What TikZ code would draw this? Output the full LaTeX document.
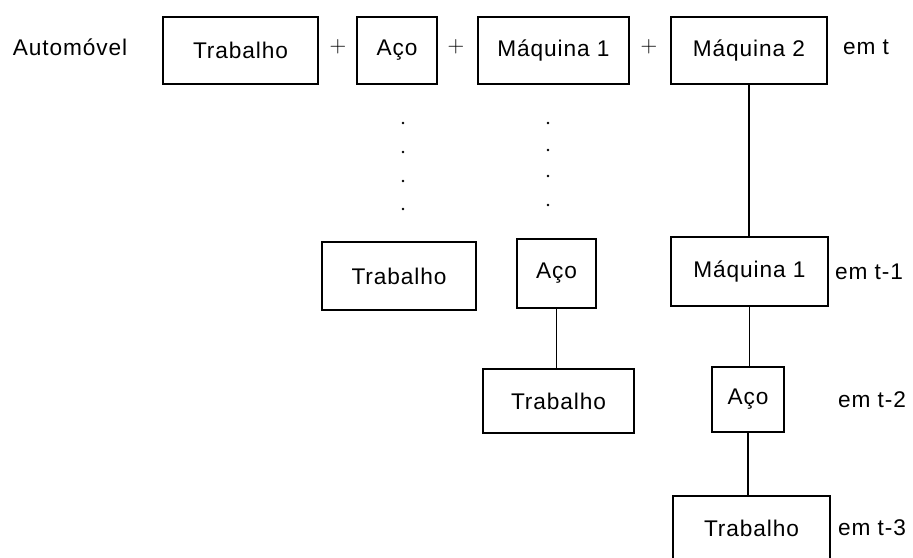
\documentclass[tikz,border=0pt]{standalone}
\usepackage{fontspec}
\setmainfont{Liberation Sans}[LetterSpace=4]
\begin{document}
\begin{tikzpicture}[x=0.75pt,y=-0.75pt,
  txt/.style={font=\fontsize{17}{20}\selectfont},
  box/.style={draw,line width=1.35pt,inner sep=0pt,txt},
  lbl/.style={inner sep=0pt,txt},
  plus/.style={inner sep=0pt,font=\fontsize{18}{20}\selectfont},
  sz/.style 2 args={minimum width=#1*0.75pt,minimum height=#2*0.75pt},
  link/.style={line width=1.35pt}]
\clip (0,0) rectangle (913,557);
\fill[white] (0,0) rectangle (913,557);
% top row
\node[lbl] (auto) at (70,47) {Automóvel};
\node[box,sz={155}{67}] (t1) at (240.5,50.5) {Trabalho};
\node[plus] (p1) at (338,47) {$+$};
\node[box,sz={80}{67}] (a1) at (397,50.5) {Aço};
\node[plus] (p2) at (456,47) {$+$};
\node[box,sz={151}{67}] (m1) at (553.5,50.5) {Máquina 1};
\node[plus] (p3) at (649,47) {$+$};
\node[box,sz={156}{67}] (m2) at (749,50.5) {Máquina 2};
\node[lbl] (et) at (866,47) {em t};
% dots
\foreach \y in {123,152,181,209} \fill (403,\y) circle (1.1pt);
\foreach \y in {123,150,176,205} \fill (548,\y) circle (1.1pt);
% row 2
\node[box,sz={154}{68}] (t2) at (399,276) {Trabalho};
\node[box,sz={79}{69}] (a2) at (556.5,273.5) {Aço};
\node[box,sz={157}{69}] (m1b) at (749.5,271.5) {Máquina 1};
\node[lbl] (et1) at (869,272) {em t-1};
% row 3
\node[box,sz={151}{64}] (t3) at (558.5,401) {Trabalho};
\node[box,sz={72}{65}] (a3) at (748,399.5) {Aço};
\node[lbl] (et2) at (872,400) {em t-2};
% row 4
\node[box,sz={157}{64}] (t4) at (751.5,528) {Trabalho};
\node[lbl] (et3) at (872,528) {em t-3};
% links
\draw[link] (m2.south) -- (m2.south |- m1b.north);
\draw[link] (a2.south) -- (a2.south |- t3.north);
\draw[link] (m1b.south) -- (m1b.south |- a3.north);
\draw[link] (a3.south) -- (a3.south |- t4.north);
\end{tikzpicture}
\end{document}
